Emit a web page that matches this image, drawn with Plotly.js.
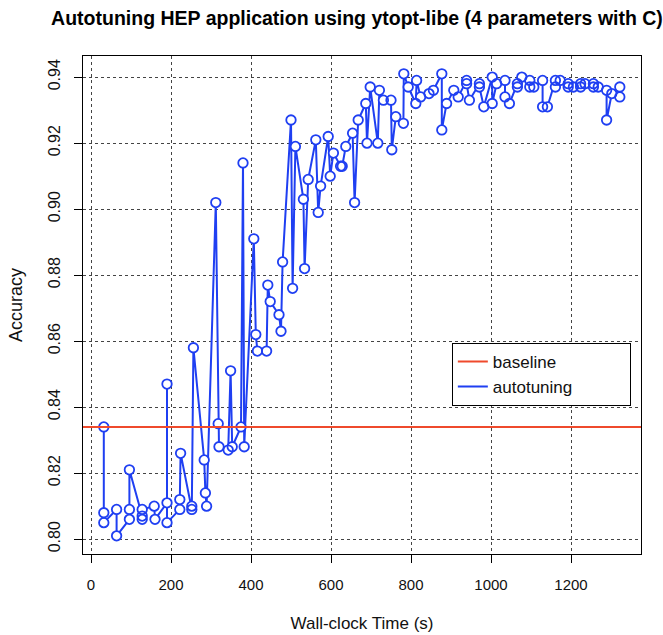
<!DOCTYPE html>
<html>
<head>
<meta charset="utf-8">
<script src="https://cdn.plot.ly/plotly-3.0.1.min.js"></script>
<style>html,body{margin:0;padding:0;background:#fff;}#chart{width:663px;height:635px;}</style>
</head>
<body>
<div id="chart"></div>
<script>
// Wall-clock time (s) of each evaluation, in order
const wallTime = [
  32, 32, 32, 64, 64, 96, 96, 96, 128, 128, 128, 158, 160,
  190, 190, 190, 222, 222, 224, 252, 252, 256, 283, 286, 289,
  312, 318, 320, 343, 349, 353, 375, 380, 383, 407, 412, 416,
  439, 442, 448, 470, 475, 479, 500, 504, 511, 531, 534, 543,
  562, 568, 574, 593, 598, 606, 624, 628, 637, 654, 659, 668,
  687, 690, 698, 717, 721, 731, 750, 752, 762, 781, 782,
  793, 812, 814, 824, 845, 856, 877, 877, 889, 907, 918,
  939, 939, 946, 971, 971, 982, 1003, 1003, 1014, 1035, 1035, 1046,
  1066, 1066, 1077, 1097, 1097, 1107, 1129, 1129, 1141, 1161, 1161, 1173,
  1193, 1193, 1206, 1224, 1224, 1235, 1256, 1256, 1268, 1289, 1289, 1302,
  1322, 1322
];
// Accuracy of each evaluation (autotuning series)
const accuracy = [
  0.834, 0.808, 0.805, 0.809, 0.801, 0.806, 0.809, 0.821, 0.807, 0.806, 0.809, 0.810, 0.806,
  0.811, 0.847, 0.805, 0.809, 0.812, 0.826, 0.810, 0.809, 0.858, 0.824, 0.814, 0.810,
  0.902, 0.835, 0.828, 0.827, 0.851, 0.828, 0.834, 0.914, 0.828, 0.891, 0.862, 0.857,
  0.857, 0.877, 0.872, 0.868, 0.863, 0.884, 0.927, 0.876, 0.919, 0.903, 0.882, 0.909,
  0.921, 0.899, 0.907, 0.922, 0.910, 0.917, 0.913, 0.913, 0.919, 0.923, 0.902, 0.927,
  0.932, 0.920, 0.937, 0.920, 0.936, 0.933, 0.933, 0.918, 0.928, 0.926, 0.941,
  0.937, 0.932, 0.939, 0.934, 0.935, 0.936, 0.941, 0.924, 0.932, 0.936, 0.934,
  0.939, 0.938, 0.933, 0.938, 0.937, 0.931, 0.940, 0.932, 0.938, 0.939, 0.934, 0.932,
  0.938, 0.937, 0.940, 0.939, 0.937, 0.937, 0.939, 0.931, 0.931, 0.939, 0.937, 0.939,
  0.938, 0.937, 0.937, 0.938, 0.937, 0.938, 0.938, 0.937, 0.937, 0.936, 0.927, 0.935,
  0.937, 0.934
];
// Baseline accuracy
const baselineAccuracy = 0.834;
// Series names
const seriesNames = ['baseline', 'autotuning'];
// Axis ticks
const xTicks = [0, 200, 400, 600, 800, 1000, 1200];
const yTicks = [0.80, 0.82, 0.84, 0.86, 0.88, 0.90, 0.92, 0.94];
const xRange = [-20, 1375];
const yRange = [0.7955, 0.9464];

const BLUE = '#1f3ff2';
const RED = '#ef4a2c';
const FONT = 'Liberation Sans, Arial, Helvetica, sans-serif';
const PAD = '\u00a0'.repeat(11);

const traces = [
  {
    x: wallTime, y: accuracy, type: 'scatter', mode: 'lines', name: seriesNames[1] + PAD,
    line: {color: BLUE, width: 2}, legendrank: 2
  },
  {
    x: wallTime, y: accuracy, type: 'scatter', mode: 'markers', showlegend: false, hoverinfo: 'skip',
    marker: {symbol: 'circle', size: 9, color: '#ffffff', line: {width: 0}}
  },
  {
    x: wallTime, y: accuracy, type: 'scatter', mode: 'markers', showlegend: false,
    marker: {symbol: 'circle-open', size: 9.5, color: BLUE, line: {color: BLUE, width: 1.8}}
  },
  {
    x: xRange, y: [baselineAccuracy, baselineAccuracy], type: 'scatter', mode: 'lines', name: seriesNames[0],
    line: {color: RED, width: 2}, legendrank: 1
  }
];

const layout = {
  width: 663, height: 635,
  paper_bgcolor: '#ffffff', plot_bgcolor: '#ffffff',
  margin: {l: 83, r: 22, t: 56, b: 81, pad: 0},
  font: {family: FONT, color: '#000', size: 16},
  title: {
    text: 'Autotuning HEP application using ytopt-libe (4 parameters with C)',
    font: {family: FONT, size: 19.5, color: '#000', weight: 'bold'},
    x: 357 / 663, xref: 'container', xanchor: 'center', y: 1 - 18 / 635, yref: 'container', yanchor: 'middle'
  },
  xaxis: {
    range: xRange, tickvals: xTicks, ticktext: xTicks.map(String),
    showline: true, mirror: true, linecolor: '#000', linewidth: 1,
    ticks: 'outside', ticklen: 8, tickcolor: '#000', tickwidth: 1,
    tickfont: {family: FONT, size: 15, color: '#111'}, ticklabelstandoff: 9,
    showgrid: true, gridcolor: '#444', griddash: 'dot', gridwidth: 1, zeroline: false,
    title: {text: 'Wall-clock Time (s)', font: {family: FONT, size: 17, color: '#111'}, standoff: 25}
  },
  yaxis: {
    range: yRange, tickvals: yTicks, ticktext: yTicks.map(v => v.toFixed(2)),
    showline: true, mirror: true, linecolor: '#000', linewidth: 1,
    ticks: 'outside', ticklen: 8, tickcolor: '#000', tickwidth: 1, tickangle: -90,
    tickfont: {family: FONT, size: 16, color: '#111'}, ticklabelstandoff: 8,
    showgrid: true, gridcolor: '#444', griddash: 'dot', gridwidth: 1, zeroline: false,
    title: {text: 'Accuracy', font: {family: FONT, size: 18, color: '#111'}, standoff: 18}
  },
  legend: {
    x: 0.661, y: 0.424, xanchor: 'left', yanchor: 'top',
    bgcolor: '#ffffff', bordercolor: '#000', borderwidth: 1,
    font: {family: FONT, size: 17, color: '#111'},
    traceorder: 'normal'
  },
  showlegend: true
};

Plotly.newPlot('chart', traces, layout, {staticPlot: true, displayModeBar: false});
</script>
</body>
</html>
